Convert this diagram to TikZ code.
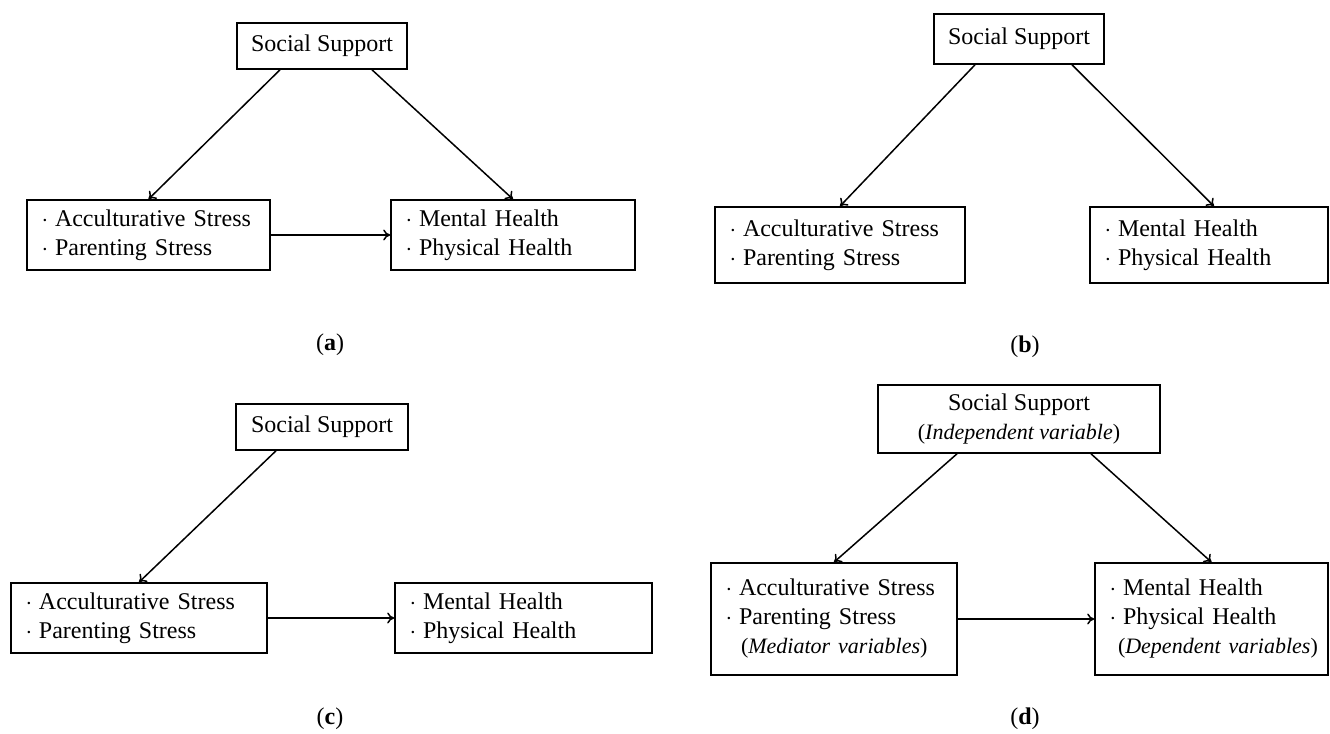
\documentclass[tikz,border=0pt]{standalone}
\usepackage{fontspec}
\setmainfont{Liberation Serif}
\usetikzlibrary{arrows.meta}
\newcommand{\itm}{\makebox[7pt][l]{\hspace{0.3pt}$\cdot$}}
\newcommand{\paren}[2]{\mbox{\hspace{#1}\fontsize{11}{14.5}\selectfont(\textit{#2})}}
\begin{document}
\begin{tikzpicture}[x=0.5pt,y=-0.5pt,font=\fontsize{12}{14.5}\selectfont,>={To[length=3.5pt,width=5.5pt]}]
\useasboundingbox (0,0) rectangle (1330,734);
\begin{scope}[every node/.style={draw,line width=0.8pt,rectangle,inner xsep=7pt,inner ysep=0pt}]
    % (a)
    \node[minimum width=82pt,minimum height=23pt] (SA) at (322,46) {Social Support};
    \node[text width=107.5pt,minimum height=35pt,align=left] (MA) at (148.5,235) {\itm Acculturative Stress\\\itm Parenting Stress};
    \node[text width=108pt,minimum height=35pt,align=left] (DA) at (513,235) {\itm Mental Health\\\itm Physical Health};
    % (b)
    \node[minimum width=84pt,minimum height=25pt] (SB) at (1019,39) {Social Support};
    \node[text width=111pt,minimum height=38pt,align=left] (MB) at (840,245) {\itm Acculturative Stress\\\itm Parenting Stress};
    \node[text width=105pt,minimum height=38pt,align=left] (DB) at (1209,245) {\itm Mental Health\\\itm Physical Health};
    % (c)
    \node[minimum width=86pt,minimum height=23pt] (SC) at (322,427) {Social Support};
    \node[text width=114pt,minimum height=35pt,align=left] (MC) at (139,618) {\itm Acculturative Stress\\\itm Parenting Stress};
    \node[text width=114.5pt,minimum height=35pt,align=left] (DC) at (523.5,618) {\itm Mental Health\\\itm Physical Health};
    % (d)
    \node[minimum width=141pt,minimum height=34pt,align=center] (SD) at (1019,419) {Social Support\\\paren{0pt}{Independent variable}};
    \node[text width=109pt,minimum height=56pt,align=left] (MD) at (834,619) {\itm Acculturative Stress\\\itm Parenting Stress\\\paren{8pt}{Mediator variables}};
    \node[text width=102.5pt,minimum height=56pt,align=left] (DD) at (1211.5,619) {\itm Mental Health\\\itm Physical Health\\\paren{4.5pt}{Dependent variables}};
\end{scope}

\node (LA) at (330,345) {(\textbf{a})};
\node (LB) at (1025,347) {(\textbf{b})};
\node (LC) at (330,719) {(\textbf{c})};
\node (LD) at (1025,719) {(\textbf{d})};

\begin{scope}[every edge/.style={draw,line width=0.75pt}]
    % (a)
    \path [->] ([xshift=-21pt]SA.south) edge (MA.north);
    \path [->] ([xshift=25pt]SA.south) edge (DA.north);
    \path [->] (MA) edge (DA);
    % (b)
    \path [->] ([xshift=-22pt]SB.south) edge (MB.north);
    \path [->] ([xshift=26.5pt]SB.south) edge ([xshift=2.5pt]DB.north);
    % (c)
    \path [->] ([xshift=-23pt]SC.south) edge (MC.north);
    \path [->] (MC) edge (DC);
    % (d)
    \path [->] ([xshift=-31pt]SD.south) edge (MD.north);
    \path [->] ([xshift=36pt]SD.south) edge (DD.north);
    \path [->] (MD) edge (DD);
\end{scope}
\end{tikzpicture}
\end{document}
